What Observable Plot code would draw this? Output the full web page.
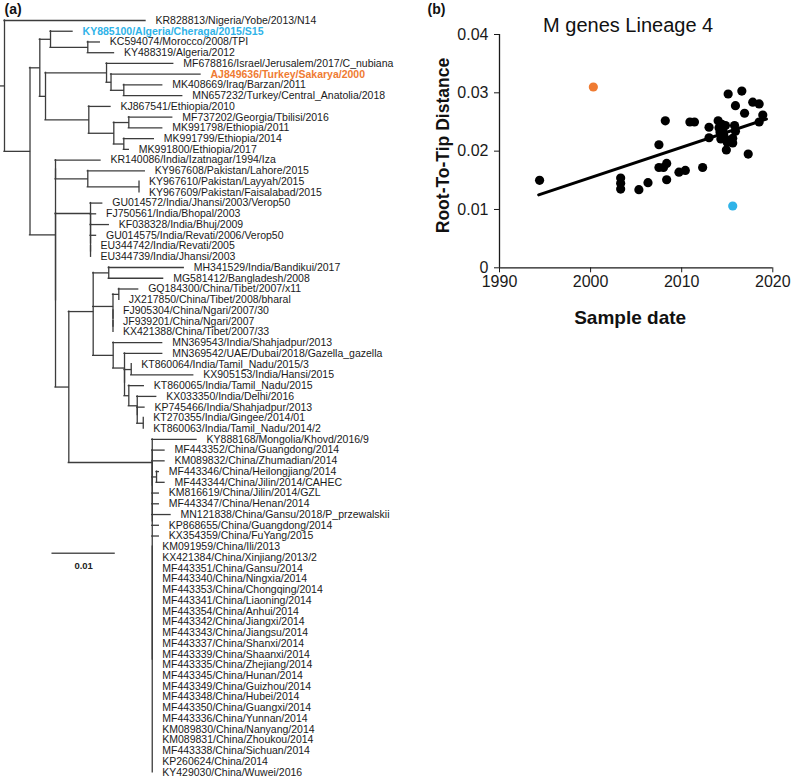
<!DOCTYPE html>
<html>
<head>
<meta charset="utf-8">
<script src="https://cdn.jsdelivr.net/npm/d3@7"></script>
<script src="https://cdn.jsdelivr.net/npm/@observablehq/plot@0.6"></script>
<style>
  html, body { margin: 0; padding: 0; background: #fff; }
  #fig { position: relative; width: 791px; height: 779px; background: #fff; overflow: hidden; }
  #fig svg { position: absolute; top: 0; overflow: visible; }
</style>
</head>
<body>
<div id="fig"></div>
<script>
// ---------------- DATA : panel (a) phylogenetic tree (Newick clades, branch lengths in subst./site) ----------------
const cladeNorthAfrica = "(KY885100/Algeria/Cheraga/2015/S15:0.00348,(KC594074/Morocco/2008/TPI:0.00190,KY488319/Algeria/2012:0.00414):0.00589)";
const cladeMiddleEast = "(MF678816/Israel/Jerusalem/2017/C_nubiana:0.01054,(AJ849636/Turkey/Sakarya/2000:0.01414,(MK408669/Iraq/Barzan/2011:0.00607,MN657232/Turkey/Central_Anatolia/2018:0.00923):0.00202):0.00071)";
const cladeEthiopia = "(KJ867541/Ethiopia/2010:0.00343,((MF737202/Georgia/Tbilisi/2016:0.00686,MK991798/Ethiopia/2011:0.00528):0.00237,(MK991799/Ethiopia/2014:0.00474,MK991800/Ethiopia/2017:0.00079):0.00158):0.00395)";
const cladePakistan = "(KR140086/India/Izatnagar/1994/Iza:0.00711,(KY967608/Pakistan/Lahore/2015:0.00901,(KY967610/Pakistan/Layyah/2015:0,KY967609/Pakistan/Faisalabad/2015:0):0.00809):0.00510)";
const cladeIndiaA = "(GU014572/India/Jhansi/2003/Verop50:0.00185,(FJ750561/India/Bhopal/2003:0.00087,(KF038328/India/Bhuj/2009:0.00289,(GU014575/India/Revati/2006/Verop50:0.00087,(EU344742/India/Revati/2005:0,EU344739/India/Jhansi/2003:0):0):0):0):0)";
const cladeSouthAsia = "((MH341529/India/Bandikui/2017:0.01185,MG581412/Bangladesh/2008:0.00859):0.00246," +
  "((GQ184300/China/Tibet/2007/x11:0.00306,JX217850/China/Tibet/2008/bharal:0):0.00092,(FJ905304/China/Ngari/2007/30:0,(JF939201/China/Ngari/2007:0,KX421388/China/Tibet/2007/33:0):0):0):0.00313," +
  "(MN369543/India/Shahjadpur/2013:0.00774,(MN369542/UAE/Dubai/2018/Gazella_gazella:0.00596,((KT860064/India/Tamil_Nadu/2015/3:0,KX905153/India/Hansi/2015:0.00980):0.00106,(KT860065/India/Tamil_Nadu/2015:0.00237,(KX033350/India/Delhi/2016:0.00300,(KP745466/India/Shahjadpur/2013:0.00115,(KT270355/India/Gingee/2014/01:0,KT860063/India/Tamil_Nadu/2014/2:0):0.00095):0):0.00133):0.00068):0):0.00179):0.00316)";
const chinaComb = [
  "KM091959/China/Ili/2013", "KX421384/China/Xinjiang/2013/2", "MF443351/China/Gansu/2014",
  "MF443340/China/Ningxia/2014", "MF443353/China/Chongqing/2014", "MF443341/China/Liaoning/2014",
  "MF443354/China/Anhui/2014", "MF443342/China/Jiangxi/2014", "MF443343/China/Jiangsu/2014",
  "MF443337/China/Shanxi/2014", "MF443339/China/Shaanxi/2014", "MF443335/China/Zhejiang/2014",
  "MF443345/China/Hunan/2014", "MF443349/China/Guizhou/2014", "MF443348/China/Hubei/2014",
  "MF443350/China/Guangxi/2014", "MF443336/China/Yunnan/2014", "KM089830/China/Nanyang/2014",
  "KM089831/China/Zhoukou/2014", "MF443338/China/Sichuan/2014", "KP260624/China/2014",
  "KY429030/China/Wuwei/2016"
];
const cladeChina = "(KY888168/Mongolia/Khovd/2016/9:0.00700,(MF443352/China/Guangdong/2014:0.00194,(KM089832/China/Zhumadian/2014:0.00194," +
  "(MF443346/China/Heilongjiang/2014:0.00036,MF443344/China/Jilin/2014/CAHEC:0.00126):0.00068," +
  "KM816619/China/Jilin/2014/GZL:0.00104,MF443347/China/Henan/2014:0.00104,MN121838/China/Gansu/2018/P_przewalskii:0.00289," +
  "KP868655/China/Guangdong/2014:0.00104,KX354359/China/FuYang/2015:0.00104,(" +
  chinaComb.map(n => n + ":0").join(",") + "):0):0):0)";
const newick = `(KR828813/Nigeria/Yobe/2013/N14:0.02228,((${cladeNorthAfrica}:0.00169,(${cladeMiddleEast}:0.00964,${cladeEthiopia}:0.00684):0.00090):0.00155,(${cladePakistan}:0,(${cladeIndiaA}:0.00553,(${cladeSouthAsia}:0.00385,${cladeChina}:0.01318):0.00210):0):0.00403):0.00403):0.00063;`;
const highlightBlue = ["KY885100/Algeria/Cheraga/2015/S15"];
const highlightOrange = ["AJ849636/Turkey/Sakarya/2000"];
const scaleBarLength = 0.01;
const scaleBarLabel = "0.01";

// ---------------- DATA : panel (b) root-to-tip regression ----------------
const sampleYear = [1994.4, 2003.3, 2003.3, 2003.3, 2005.3, 2006.3, 2007.5, 2007.5, 2008.0, 2008.35, 2008.35, 2008.2,
  2009.7, 2010.4, 2010.9, 2011.4, 2012.3, 2013.0, 2013.0,
  2014.0, 2014.1, 2014.2, 2014.4, 2014.5, 2014.6, 2014.3, 2014.8, 2014.9, 2014.9, 2015.0, 2015.6, 2015.6,
  2015.1, 2015.8, 2015.9, 2015.9, 2016.6, 2016.9, 2017.3, 2017.8, 2018.5, 2018.5, 2018.9,
  2000.3, 2015.6];
const rootToTip = [0.0150, 0.0154, 0.0145, 0.0135, 0.0134, 0.0146, 0.0211, 0.0172, 0.0172, 0.0179, 0.0151, 0.0252,
  0.0164, 0.0167, 0.0250, 0.0250, 0.0172, 0.0241, 0.0223,
  0.0252, 0.0240, 0.0233, 0.0246, 0.0236, 0.0229, 0.0221, 0.0244, 0.0220, 0.0202, 0.0215, 0.0214, 0.0222,
  0.0298, 0.0244, 0.0278, 0.0234, 0.0303, 0.0265, 0.0195, 0.0284, 0.0281, 0.0250, 0.0262,
  0.0310, 0.0106];
const pointGroup = sampleYear.map((_, i) => i === 43 ? "Turkey" : i === 44 ? "Algeria" : "other");
const trendYear = [1994.3, 2019.3];
const trendValue = [0.0125, 0.0255];
const xTicks = [1990, 2000, 2010, 2020];
const yTicks = [0, 0.01, 0.02, 0.03, 0.04];
const chartTitle = "M genes Lineage 4";
const xLabel = "Sample date";
const yLabel = "Root-To-Tip Distance";

// ---------------- styling ----------------
const FONT = "'Liberation Sans', Arial, Helvetica, sans-serif";
const BLUE = "#2fb3e8";
const ORANGE = "#ef7b32";
const groupColor = {other: "#000000", Turkey: ORANGE, Algeria: BLUE};

// ---------------- tree parsing & layout ----------------
function parseNewick(str) {
  const s = str.replace(/\s+/g, "");
  let i = 0;
  function node() {
    const n = {children: [], name: "", length: 0};
    if (s[i] === "(") {
      i++;
      n.children.push(node());
      while (s[i] === ",") { i++; n.children.push(node()); }
      i++;
    }
    let name = "";
    while (i < s.length && !",():;".includes(s[i])) name += s[i++];
    n.name = name;
    if (s[i] === ":") {
      i++;
      let num = "";
      while (i < s.length && !",();".includes(s[i])) num += s[i++];
      n.length = +num;
    }
    return n;
  }
  return node();
}
const root = parseNewick(newick);
let leafCounter = 0;
function layout(n, depth) {
  n.depth = depth;
  if (!n.children.length) n.y = leafCounter++;
  else {
    n.children.forEach(c => layout(c, depth + c.length));
    n.y = d3.mean(n.children, c => c.y);
  }
}
layout(root, 0);
const hLinks = [], vLinks = [], leaves = [];
hLinks.push({x1: -root.length, x2: 0, y: root.y});
(function walk(n) {
  if (n.children.length) {
    vLinks.push({x: n.depth, y1: d3.min(n.children, c => c.y), y2: d3.max(n.children, c => c.y)});
    n.children.forEach(c => {
      if (c.length > 0) hLinks.push({x1: n.depth, x2: c.depth, y: c.y});
      walk(c);
    });
  } else leaves.push(n);
})(root);

const nLeaves = leaves.length;
const plainLeaves = leaves.filter(d => !highlightBlue.includes(d.name) && !highlightOrange.includes(d.name));
const blueLeaves = leaves.filter(d => highlightBlue.includes(d.name));
const orangeLeaves = leaves.filter(d => highlightOrange.includes(d.name));
const scaleBar = [{x1: 0.0075, x2: 0.0075 + scaleBarLength, y: 49.6, label: scaleBarLabel}];

const tree = Plot.plot({
  width: 400, height: 779, margin: 0,
  style: {fontFamily: FONT, background: "transparent", color: "#222", overflow: "visible"},
  x: {domain: [0, 0.05], range: [4, 320.5], axis: null},
  y: {domain: [0, nLeaves - 1], range: [20, 771.8], axis: null},
  marks: [
    Plot.ruleY(hLinks, {x1: "x1", x2: "x2", y: "y", stroke: "#3c3c3c", strokeWidth: 1.3, strokeLinecap: "square"}),
    Plot.ruleX(vLinks, {x: "x", y1: "y1", y2: "y2", stroke: "#3c3c3c", strokeWidth: 1.3, strokeLinecap: "square"}),
    Plot.text(plainLeaves, {x: "depth", y: "y", text: "name", textAnchor: "start", lineAnchor: "middle", dx: 10, fontSize: 10.5, fill: "#1a1a1a"}),
    Plot.text(blueLeaves, {x: "depth", y: "y", text: "name", textAnchor: "start", lineAnchor: "middle", dx: 10, fontSize: 10.5, fill: BLUE, fontWeight: "bold"}),
    Plot.text(orangeLeaves, {x: "depth", y: "y", text: "name", textAnchor: "start", lineAnchor: "middle", dx: 10, fontSize: 10.5, fill: ORANGE, fontWeight: "bold"}),
    Plot.ruleY(scaleBar, {x1: "x1", x2: "x2", y: "y", stroke: "#555", strokeWidth: 1.6}),
    Plot.text(scaleBar, {x: d => (d.x1 + d.x2) / 2, y: "y", text: "label", textAnchor: "middle", lineAnchor: "middle", dy: 12.5, fontSize: 9.5, fontWeight: "bold", fill: "#222"}),
    Plot.text(["(a)"], {frameAnchor: "top-left", text: d => d, textAnchor: "start", lineAnchor: "middle", dx: 4, dy: 9, fontSize: 14, fontWeight: "bold", fill: "#111"})
  ]
});
tree.style.left = "0px";

// ---------------- scatter ----------------
const points = sampleYear.map((x, i) => ({x, y: rootToTip[i], c: groupColor[pointGroup[i]]}));
const trend = trendYear.map((x, i) => ({x, y: trendValue[i]}));

const scatter = Plot.plot({
  width: 391, height: 340,
  marginLeft: 99, marginRight: 18.7, marginTop: 34, marginBottom: 72.7,
  style: {fontFamily: FONT, fontSize: "16px", background: "transparent", color: "#1a1a1a", overflow: "visible"},
  x: {domain: [1990, 2020], ticks: xTicks, tickFormat: d => String(d), tickSize: 5, tickPadding: 3, label: null},
  y: {domain: [0, 0.04], ticks: yTicks, tickFormat: d => d === 0 ? "0" : d.toFixed(2), tickSize: 5, tickPadding: 6, label: null},
  color: {type: "identity"},
  marks: [
    Plot.ruleX([1990], {y1: 0, y2: 0.04, stroke: "#1a1a1a", strokeWidth: 1.3}),
    Plot.ruleY([0], {x1: 1990, x2: 2020, stroke: "#1a1a1a", strokeWidth: 1.3}),
    Plot.line(trend, {x: "x", y: "y", stroke: "#000", strokeWidth: 3}),
    Plot.dot(points, {x: "x", y: "y", r: 4.6, fill: "c"}),
    Plot.text([chartTitle], {frameAnchor: "top", text: d => d, textAnchor: "middle", lineAnchor: "middle", dx: -8, dy: -9, fontSize: 20, fill: "#111"}),
    Plot.text([xLabel], {frameAnchor: "bottom", text: d => d, textAnchor: "middle", lineAnchor: "middle", dx: -6, dy: 50, fontSize: 19, fontWeight: "bold", fill: "#111"}),
    Plot.text([yLabel], {frameAnchor: "left", text: d => d, textAnchor: "middle", lineAnchor: "middle", rotate: -90, dx: -56, dy: -5.6, fontSize: 17.5, fontWeight: "bold", fill: "#111"}),
    Plot.text(["(b)"], {frameAnchor: "top-left", text: d => d, textAnchor: "start", lineAnchor: "middle", dx: -72, dy: -25, fontSize: 14, fontWeight: "bold", fill: "#111"})
  ]
});
scatter.style.left = "400px";

const fig = document.getElementById("fig");
fig.append(tree, scatter);
</script>
</body>
</html>
